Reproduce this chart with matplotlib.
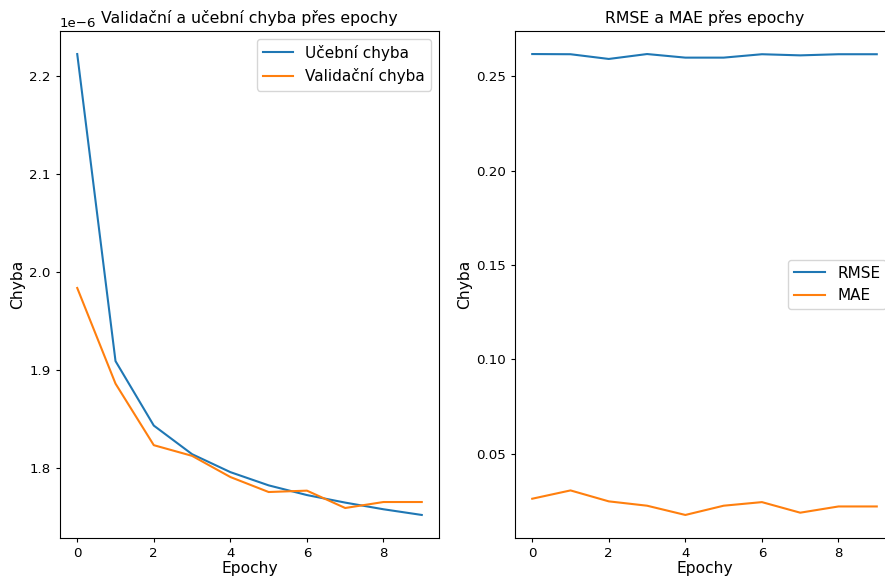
import matplotlib
matplotlib.use("Agg")
import matplotlib.pyplot as plt

epochs = list(range(10))

train_loss = [2.2228e-6, 1.9095e-6, 1.8437e-6, 1.8145e-6, 1.7962e-6,
              1.7827e-6, 1.7728e-6, 1.7651e-6, 1.7583e-6, 1.7525e-6]
val_loss = [1.9841e-6, 1.8865e-6, 1.8237e-6, 1.8128e-6, 1.7912e-6,
            1.7759e-6, 1.7773e-6, 1.7596e-6, 1.7657e-6, 1.7657e-6]

rmse = [0.2618, 0.2617, 0.2592, 0.2618, 0.2599,
        0.2599, 0.2617, 0.2611, 0.2617, 0.2617]
mae = [0.0262, 0.0306, 0.0248, 0.0225, 0.0176,
       0.0225, 0.0244, 0.0188, 0.0221, 0.0221]

W, H = 885, 577
TITLE_FS = 11.3
LABEL_FS = 11.2
TICK_FS = 9.6
LEGEND_FS = 11

fig = plt.figure(figsize=(W / 100, H / 100), dpi=100)

ax1 = fig.add_axes([60 / W, 1 - 538 / H, 379 / W, 507 / H])
ax1.plot(epochs, train_loss, label="Učební chyba")
ax1.plot(epochs, val_loss, label="Validační chyba")
ax1.set_title("Validační a učební chyba přes epochy", fontsize=TITLE_FS)
ax1.set_xlabel("Epochy", fontsize=LABEL_FS, labelpad=0.5)
ax1.set_ylabel("Chyba", fontsize=LABEL_FS, labelpad=3)
ax1.tick_params(labelsize=TICK_FS, length=3.2)
ax1.yaxis.get_offset_text().set_fontsize(TICK_FS)
ax1.legend(fontsize=LEGEND_FS)

# right panel runs past the figure edge, like the original crop
ax2 = fig.add_axes([515 / W, 1 - 538 / H, 379 / W, 507 / H])
ax2.plot(epochs, rmse, label="RMSE")
ax2.plot(epochs, mae, label="MAE")
ax2.set_title("RMSE a MAE přes epochy", fontsize=TITLE_FS)
ax2.set_xlabel("Epochy", fontsize=LABEL_FS, labelpad=0.5)
ax2.set_ylabel("Chyba", fontsize=LABEL_FS, labelpad=3)
ax2.tick_params(labelsize=TICK_FS, length=3.2)
ax2.legend(loc="center right", fontsize=LEGEND_FS)

fig.savefig("out.png", dpi=100)
